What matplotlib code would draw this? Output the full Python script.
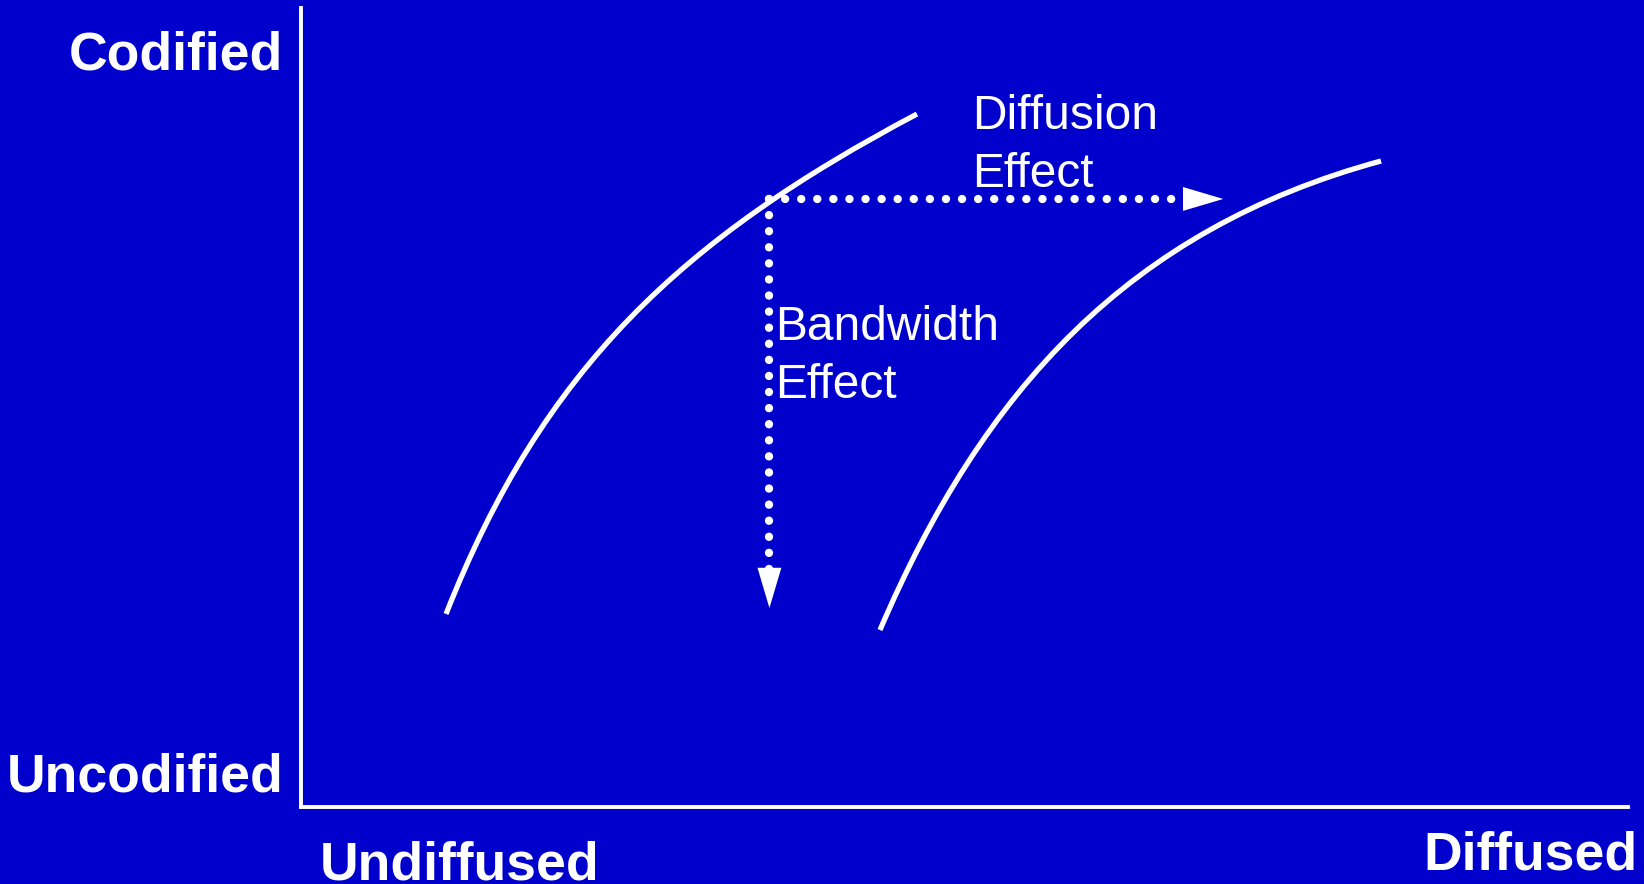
import matplotlib
matplotlib.use('Agg')
import matplotlib.pyplot as plt
from matplotlib.path import Path
from matplotlib.patches import PathPatch

plt.rcParams['font.family'] = ['Liberation Sans', 'DejaVu Sans']

bg = '#0000CC'
fg = 'white'

# both curves as cubic bezier: start, control, control, end (0-100 axes)
curve1_x = [10.93, 18.24, 28.76, 46.42]
curve1_y = [24.16, 54.99, 71.21, 86.73]
curve2_x = [43.63, 51.38, 62.40, 81.39]
curve2_y = [22.15, 52.18, 72.29, 80.85]

# dotted arrows: corner, tip of right arrow, tip of down arrow
corner = (35.3, 76.1)
right_tip = 69.5
down_tip = 24.9
head_len = 3.0    # along x for right arrow (data units)
head_len_y = 4.8  # along y for down arrow

axis_labels = ['Codified', 'Uncodified', 'Undiffused', 'Diffused']
diffusion_text = ['Diffusion', 'Effect']
bandwidth_text = ['Bandwidth', 'Effect']


def bezier(ax, xs, ys, **kw):
    path = Path(list(zip(xs, ys)), [Path.MOVETO, Path.CURVE4, Path.CURVE4, Path.CURVE4])
    ax.add_patch(PathPatch(path, fill=False, **kw))


fig = plt.figure(figsize=(16.44, 8.84), dpi=100, facecolor=bg)
ax = fig.add_axes([301 / 1644, 77 / 884, 1327 / 1644, 799 / 884])
ax.set_facecolor(bg)
ax.set_xlim(0, 100)
ax.set_ylim(0, 100)
for s in ['top', 'right']:
    ax.spines[s].set_visible(False)
for s in ['left', 'bottom']:
    ax.spines[s].set_color(fg)
    ax.spines[s].set_linewidth(2.8)
ax.set_xticks([])
ax.set_yticks([])

bezier(ax, curve1_x, curve1_y, edgecolor=fg, lw=3.8, capstyle='butt')
bezier(ax, curve2_x, curve2_y, edgecolor=fg, lw=3.8, capstyle='butt')

dot = dict(color=fg, lw=6, linestyle=(0, (0.01, 1.92)), dash_capstyle='round')
ax.plot([corner[0], right_tip - head_len], [corner[1], corner[1]], **dot)
ax.plot([corner[0], corner[0]], [corner[1], down_tip + head_len_y], **dot)

head = dict(arrowstyle='-|>,head_length=29,head_width=8.6', mutation_scale=1,
            color=fg, lw=0, shrinkA=0, shrinkB=0)
ax.annotate('', xy=(right_tip, corner[1]), xytext=(right_tip - head_len, corner[1]),
            arrowprops=head)
ax.annotate('', xy=(corner[0], down_tip), xytext=(corner[0], down_tip + head_len_y),
            arrowprops=head)

ax.text(50.6, 84.9, diffusion_text[0], color=fg, fontsize=34.5, va='baseline', clip_on=False)
ax.text(50.6, 77.6, diffusion_text[1], color=fg, fontsize=34.5, va='baseline', clip_on=False)
ax.text(35.7, 58.4, bandwidth_text[0], color=fg, fontsize=34.5, va='baseline', clip_on=False)
ax.text(35.7, 51.2, bandwidth_text[1], color=fg, fontsize=34.5, va='baseline', clip_on=False)

bold = dict(color=fg, fontsize=38.5, fontweight='bold', va='baseline')
fig.text(283 / 1644, 1 - 69 / 884, axis_labels[0], ha='right', **bold)
fig.text(283 / 1644, 1 - 792 / 884, axis_labels[1], ha='right', **bold)
fig.text(320 / 1644, 1 - 880 / 884, axis_labels[2], ha='left', **bold)
fig.text(1637 / 1644, 1 - 869 / 884, axis_labels[3], ha='right', **bold)

fig.savefig('out.png', dpi=100, facecolor=bg)
